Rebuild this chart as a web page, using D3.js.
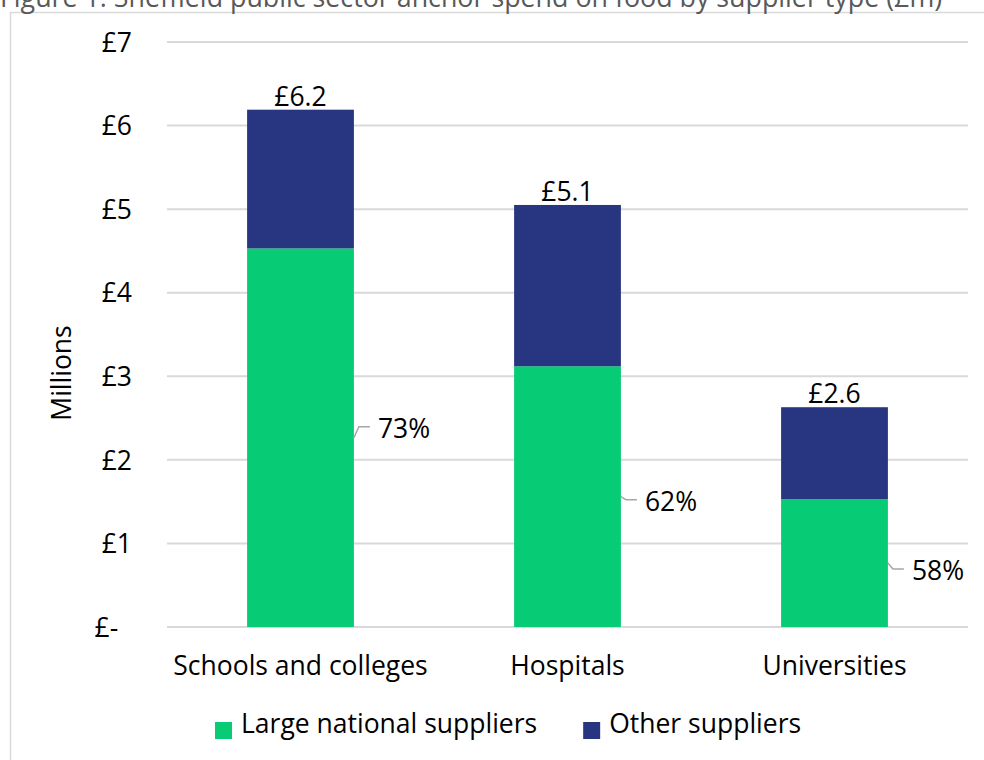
<!DOCTYPE html>
<html>
<head>
<meta charset="utf-8">
<script src="https://cdn.jsdelivr.net/npm/d3@7.9.0/dist/d3.min.js"></script>
<style>
  body { margin: 0; background: #fff; }
  svg { display: block; font-family: "Open Sans", sans-serif; }
</style>
</head>
<body>
<svg id="chart" width="984" height="760"></svg>
<script>
const categories = ['Schools and colleges', 'Hospitals', 'Universities'];
const largeNational = [4.53, 3.12, 1.53];
const otherSuppliers = [1.66, 1.93, 1.10];
const totalLabels = ['£6.2', '£5.1', '£2.6'];
const shareLabels = ['73%', '62%', '58%'];
const yTicks = [0, 1, 2, 3, 4, 5, 6, 7];
const seriesNames = ['Large national suppliers', 'Other suppliers'];

const colors = d3.scaleOrdinal()
    .domain(seriesNames)
    .range(['#07cb75', '#283580']);

// little nudges for the excel-style leader labels
const labelNudge = [-11, 3, 6];
const fs = 26.5;

const svg = d3.select('#chart');

// outer frame + clipped title
svg.append('rect')
    .attr('x', 10.5).attr('y', 12.5)
    .attr('width', 1000).attr('height', 800)
    .attr('fill', 'none')
    .attr('stroke', '#d9d9d9')
    .attr('stroke-width', 1.5);

svg.append('text')
    .attr('x', 0).attr('y', 7)
    .attr('font-size', 26.8)
    .attr('fill', '#595959')
    .text('Figure 1: Sheffield public sector anchor spend on food by supplier type (£m)');

const x = d3.scaleBand()
    .domain(categories)
    .range([167, 968])
    .paddingInner(0.6)
    .paddingOuter(0.3);

const y = d3.scaleLinear()
    .domain([0, 7])
    .range([627, 42]);

// gridlines
svg.append('g')
    .selectAll('line')
    .data(yTicks)
    .join('line')
    .attr('x1', 167).attr('x2', 968)
    .attr('y1', d => y(d)).attr('y2', d => y(d))
    .attr('stroke', '#d9d9d9')
    .attr('stroke-width', 2);

// y axis labels
const yAxis = svg.append('g')
    .attr('transform', 'translate(132,0)')
    .call(d3.axisLeft(y)
        .tickValues(yTicks)
        .tickSize(0)
        .tickPadding(0)
        .tickFormat(d => d === 0 ? '£-\u00a0\u00a0' : '£' + d));
yAxis.select('.domain').remove();
yAxis.selectAll('text')
    .attr('font-size', fs)
    .attr('font-family', '"Open Sans", sans-serif')
    .attr('fill', '#000')
    .attr('dy', '0.35em');

svg.append('text')
    .attr('transform', 'translate(71,373) rotate(-90)')
    .attr('text-anchor', 'middle')
    .attr('font-size', fs)
    .attr('fill', '#000')
    .text('Millions');

// stacked bars
const rows = categories.map((c, i) => ({
    category: c,
    [seriesNames[0]]: largeNational[i],
    [seriesNames[1]]: otherSuppliers[i]
}));
const stacked = d3.stack().keys(seriesNames)(rows);

svg.append('g')
    .selectAll('g')
    .data(stacked)
    .join('g')
    .attr('fill', d => colors(d.key))
    .selectAll('rect')
    .data(d => d)
    .join('rect')
    .attr('x', d => x(d.data.category))
    .attr('width', x.bandwidth())
    .attr('y', d => y(d[1]))
    .attr('height', d => y(d[0]) - y(d[1]));

// totals on top
categories.forEach((c, i) => {
    const total = largeNational[i] + otherSuppliers[i];
    svg.append('text')
        .attr('x', x(c) + x.bandwidth() / 2)
        .attr('y', y(total) - 4)
        .attr('text-anchor', 'middle')
        .attr('font-size', fs)
        .attr('fill', '#000')
        .text(totalLabels[i]);
});

// share labels with leader lines
categories.forEach((c, i) => {
    const right = x(c) + x.bandwidth();
    const mid = y(largeNational[i] / 2);
    const ly = mid + labelNudge[i];
    svg.append('path')
        .attr('d', `M${right},${mid}L${right + 5},${ly}L${right + 16},${ly}`)
        .attr('fill', 'none')
        .attr('stroke', '#a6a6a6')
        .attr('stroke-width', 1.5);
    svg.append('text')
        .attr('x', right + 24)
        .attr('y', ly + 2)
        .attr('dy', '0.35em')
        .attr('font-size', fs)
        .attr('fill', '#000')
        .text(shareLabels[i]);
});

// category labels
categories.forEach(c => {
    svg.append('text')
        .attr('x', x(c) + x.bandwidth() / 2)
        .attr('y', 666)
        .attr('dy', '0.35em')
        .attr('text-anchor', 'middle')
        .attr('font-size', fs)
        .attr('fill', '#000')
        .text(c);
});

// legend
const legend = svg.append('g');
let lx = 215;
seriesNames.forEach(name => {
    legend.append('rect')
        .attr('x', lx).attr('y', 722)
        .attr('width', 17).attr('height', 17)
        .attr('fill', colors(name));
    const t = legend.append('text')
        .attr('x', lx + 26)
        .attr('y', 724)
        .attr('dy', '0.35em')
        .attr('font-size', fs)
        .attr('fill', '#000')
        .text(name);
    lx += 26 + t.node().getComputedTextLength() + 46;
});
</script>
</body>
</html>
